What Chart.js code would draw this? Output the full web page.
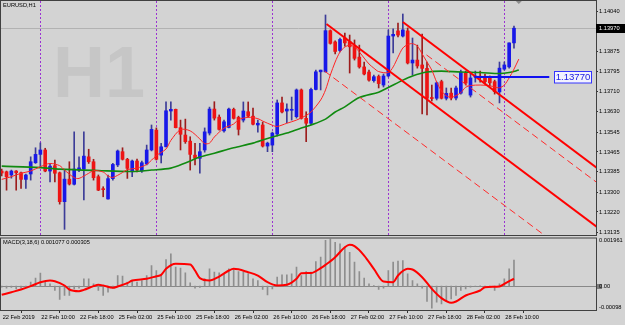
<!DOCTYPE html>
<html>
<head>
<meta charset="utf-8">
<script src="https://cdn.jsdelivr.net/npm/chart.js@4.4.1/dist/chart.umd.min.js"></script>
<style>
  html, body { margin: 0; padding: 0; background: #d3d3d3; }
  #wrap { position: relative; width: 625px; height: 325px; overflow: hidden; }
  canvas { position: absolute; left: 0; }
  #main { top: 0; }
  #macd { top: 236px; }
</style>
</head>
<body>
<div id="wrap">
  <canvas id="main" width="625" height="236"></canvas>
  <canvas id="macd" width="625" height="89"></canvas>
</div>
<script>
// EURUSD H1 candles, bar index 0 = 22 Feb 02:00
const opens = [1.13387,1.13384,1.13371,1.13387,1.13380,1.13353,1.13375,1.13421,1.13455,1.13473,
  1.13387,1.13409,1.13380,1.13262,1.13354,1.13333,1.13391,1.13395,1.13445,1.13425,
  1.13364,1.13314,1.13273,1.13356,1.13412,1.13466,1.13435,1.13384,1.13428,1.13388,
  1.13416,1.13473,1.13554,1.13452,1.13486,1.13632,1.13639,1.13564,1.13534,1.13509,
  1.13452,1.13439,1.13473,1.13542,1.13640,1.13607,1.13551,1.13565,1.13639,1.13606,
  1.13595,1.13629,1.13611,1.13575,1.13575,1.13489,1.13493,1.13538,1.13665,1.13632,
  1.13635,1.13609,1.13718,1.13602,1.13582,1.13720,1.13792,1.13792,1.13960,1.13914,
  1.13879,1.13930,1.13915,1.13897,1.13852,1.13812,1.13791,1.13756,1.13773,1.13738,
  1.13775,1.13938,1.13959,1.13938,1.13959,1.13828,1.13840,1.13820,1.13806,1.13684,
  1.13684,1.13752,1.13684,1.13705,1.13685,1.13705,1.13787,1.13697,1.13771,1.13771,
  1.13767,1.13767,1.13752,1.13710,1.13803,1.13812,1.13910];
const highs = [1.13395,1.13387,1.13391,1.13389,1.13383,1.13375,1.13445,1.13482,1.13502,1.13480,
  1.13418,1.13432,1.13383,1.13391,1.13425,1.13547,1.13445,1.13547,1.13476,1.13435,
  1.13371,1.13323,1.13371,1.13418,1.13473,1.13482,1.13439,1.13432,1.13436,1.13428,
  1.13493,1.13575,1.13563,1.13500,1.13670,1.13670,1.13640,1.13595,1.13599,1.13527,
  1.13500,1.13500,1.13563,1.13648,1.13670,1.13616,1.13595,1.13644,1.13644,1.13611,
  1.13669,1.13669,1.13644,1.13595,1.13587,1.13505,1.13546,1.13677,1.13689,1.13661,
  1.13689,1.13722,1.13722,1.13629,1.13726,1.13799,1.13799,1.14024,1.13963,1.13918,
  1.13930,1.13950,1.13942,1.13922,1.13901,1.13832,1.13799,1.13779,1.13779,1.13783,
  1.13963,1.13967,1.13991,1.14028,1.13971,1.13930,1.13901,1.13946,1.13832,1.13738,
  1.13750,1.13758,1.13726,1.13726,1.13734,1.13799,1.13795,1.13791,1.13795,1.13795,
  1.13783,1.13775,1.13758,1.13832,1.13832,1.13910,1.13979];
const lows = [1.13367,1.13309,1.13358,1.13309,1.13316,1.13316,1.13350,1.13418,1.13405,1.13384,
  1.13343,1.13343,1.13252,1.13149,1.13330,1.13330,1.13384,1.13269,1.13418,1.13350,
  1.13307,1.13282,1.13272,1.13350,1.13405,1.13432,1.13357,1.13364,1.13383,1.13381,
  1.13412,1.13469,1.13432,1.13420,1.13485,1.13595,1.13563,1.13473,1.13500,1.13391,
  1.13412,1.13378,1.13464,1.13534,1.13595,1.13554,1.13546,1.13563,1.13599,1.13534,
  1.13587,1.13607,1.13575,1.13546,1.13485,1.13466,1.13466,1.13530,1.13624,1.13584,
  1.13595,1.13603,1.13599,1.13507,1.13575,1.13718,1.13718,1.13791,1.13905,1.13865,
  1.13873,1.13897,1.13787,1.13840,1.13807,1.13779,1.13754,1.13750,1.13726,1.13730,
  1.13771,1.13869,1.13934,1.13934,1.13824,1.13779,1.13807,1.13620,1.13616,1.13673,
  1.13677,1.13681,1.13677,1.13677,1.13677,1.13701,1.13738,1.13689,1.13750,1.13750,
  1.13742,1.13734,1.13701,1.13665,1.13799,1.13807,1.13889];
const closes = [1.13379,1.13364,1.13387,1.13380,1.13353,1.13371,1.13425,1.13455,1.13473,1.13387,
  1.13407,1.13378,1.13262,1.13354,1.13334,1.13395,1.13400,1.13448,1.13425,1.13360,
  1.13309,1.13311,1.13356,1.13414,1.13469,1.13435,1.13398,1.13428,1.13391,1.13421,
  1.13473,1.13557,1.13435,1.13486,1.13633,1.13639,1.13564,1.13537,1.13507,1.13455,
  1.13439,1.13466,1.13547,1.13640,1.13603,1.13557,1.13588,1.13640,1.13602,1.13557,
  1.13632,1.13611,1.13578,1.13582,1.13489,1.13501,1.13542,1.13665,1.13628,1.13640,
  1.13637,1.13718,1.13602,1.13582,1.13720,1.13792,1.13799,1.13960,1.13908,1.13875,
  1.13924,1.13910,1.13894,1.13847,1.13812,1.13783,1.13758,1.13772,1.13744,1.13775,
  1.13938,1.13945,1.13942,1.13963,1.13828,1.13840,1.13816,1.13806,1.13684,1.13683,
  1.13747,1.13684,1.13704,1.13685,1.13726,1.13791,1.13746,1.13767,1.13772,1.13770,
  1.13752,1.13747,1.13711,1.13807,1.13820,1.13910,1.13970];

// moving averages at these bars
const maFastBars = [0,2,4,6,8,10,12,13,15,16,18,19,21,22,23,25,26,28,30,32,34,35,37,39,41,42,43,44,46,48,
  49,51,53,54,56,57,59,61,63,64,66,67,68,69,70,71,72,73,74,75,76,77,78,80,81,82,83,84,85,86,
  87,88,89,90,91,92,93,94,95,96,97,99,101,102,103,104,105,106,107];
const maFastValues = [1.13353,1.13364,1.13378,1.13387,1.13405,1.13418,1.13409,1.13391,1.13360,1.13357,
  1.13378,1.13389,1.13383,1.13367,1.13361,1.13381,1.13393,1.13399,1.13414,1.13450,
  1.13477,1.13512,1.13556,1.13551,1.13518,1.13499,1.13501,1.13526,1.13562,1.13579,
  1.13597,1.13606,1.13601,1.13591,1.13574,1.13569,1.13582,1.13595,1.13614,1.13628,
  1.13677,1.13718,1.13779,1.13832,1.13873,1.13893,1.13901,1.13894,1.13873,1.13848,
  1.13824,1.13807,1.13793,1.13789,1.13812,1.13852,1.13889,1.13903,1.13907,1.13897,
  1.13865,1.13832,1.13799,1.13750,1.13714,1.13694,1.13688,1.13695,1.13707,1.13729,
  1.13736,1.13738,1.13735,1.13730,1.13727,1.13738,1.13767,1.13803,1.13844];
const maSlowBars = [0,8,12,20,27,31,35,38,41,44,48,52,55,59,62,64,67,69,71,74,78,80,83,85,88,91,95,99,103,105,107];
const maSlowValues = [1.13407,1.13401,1.13395,1.13389,1.13385,1.13391,1.13399,1.13420,1.13444,1.13460,
  1.13482,1.13501,1.13520,1.13542,1.13563,1.13575,1.13599,1.13628,1.13649,1.13687,
  1.13709,1.13728,1.13758,1.13775,1.13791,1.13795,1.13791,1.13789,1.13785,1.13789,1.13799];

// drawn objects: [bar, price] end points
const trendA = [[67.2, 1.13987], [123.3, 1.13157]];
const trendADash = [[66.8, 1.13795], [123.3, 1.12963]];
const trendB = [[83, 1.13995], [123.3, 1.13398]];
const trendBDash = [[87.9, 1.13861], [123.3, 1.13338]];
const hLinePrice = 1.13770;
const hLineBars = [97.8, 113.3];
const bidPrice = 1.13970;
const separatorBars = [8, 32, 56, 80, 104];
const shiftMarkerBar = 107;

// MACD(3,18,6), values in millionths
const macdParams = [3, 18, 6];
const macdHist = [-41,-82,-55,-110,-68,-27,164,329,534,164,
  96,-178,-548,-384,-384,-110,-82,301,301,96,
  -178,-384,-247,-82,438,411,164,233,164,233,
  438,849,644,438,1096,1329,781,740,548,137,
  -82,-55,301,712,575,548,507,712,685,603,
  575,507,301,233,-137,-356,-110,370,466,466,
  507,781,438,603,575,1014,1192,1890,1950,1808,
  1740,1603,1397,986,603,329,96,20,-137,-82,
  644,986,1028,1055,507,233,96,-82,-630,-900,
  -658,-726,-630,-521,-384,-178,-110,-41,0,10,
  0,-10,-178,96,301,712,1077];
const signalBars = [0,2,4,6,8,10,11,13,14,16,17,19,20,21,23,24,26,27,30,32,33,34,36,39,40,41,43,45,47,48,
  51,53,55,57,59,61,62,64,66,67,69,71,72,73,75,77,79,81,82,84,85,87,89,91,93,94,96,99,100,103,104,106];
const signalValues = [-356,-247,-137,0,164,233,205,27,-137,-205,-151,0,55,27,-68,-14,123,233,301,411,
  466,712,918,890,644,329,233,397,644,712,575,438,164,27,55,301,534,540,740,877,
  1192,1603,1699,1644,1260,712,192,164,438,712,685,370,-110,-493,-685,-630,-384,-178,-41,-14,96,305];
const MACD_UNIT = 1e-6;

// axes
const priceTicks = [1.14040,1.13955,1.13875,1.13795,1.13710,1.13630,1.13545,1.13465,1.13385,1.13300,1.13220,1.13135];
const timeLabelBars = [0,8,16,24,32,40,48,56,64,72,80,88,96,104];
const timeLabels = ['22 Feb 2019','22 Feb 10:00','22 Feb 18:00','25 Feb 02:00','25 Feb 10:00','25 Feb 18:00',
  '26 Feb 02:00','26 Feb 10:00','26 Feb 18:00','27 Feb 02:00','27 Feb 10:00','27 Feb 18:00','28 Feb 02:00','28 Feb 10:00'];
const macdAxisValues = [0.001961, 0, -0.00098];
const macdAxisLabels = ['0.001961', '0.00', '-0.00098'];

const X_MIN = -0.145, X_MAX = 122.97;
const P_MIN = 1.13126, P_MAX = 1.14081;
const MACD_MIN = -0.00098, MACD_MAX = 0.001961;

const UP_BODY = '#1818e8', DN_BODY = '#ee1414';
const UP_WICK = '#3c3c98', DN_WICK = '#9c1c1c';
const FRAME = '#404040';
const smallFont = { family: 'Liberation Sans', size: 5.7 };
const SMALL = '5.7px "Liberation Sans"';

Chart.defaults.font.family = 'Liberation Sans';

const isUp = i => closes[i] >= opens[i];
const barIdx = opens.map((_, i) => i);
const pts = (bars, vals, k = 1) => bars.map((b, j) => ({ x: b, y: vals[j] * k }));
const seg = line => line.map(([x, y]) => ({ x, y }));

function frame(ctx, a) {
  ctx.strokeStyle = FRAME;
  ctx.lineWidth = 1;
  ctx.strokeRect(a.left - 0.5, a.top - 0.5, a.right - a.left + 1, a.bottom - a.top + 1);
}

const mainDeco = {
  id: 'mainDeco',
  beforeDatasetsDraw(chart) {
    const { ctx, chartArea: a, scales: { x, y } } = chart;
    ctx.save();
    ctx.beginPath();
    ctx.rect(a.left, a.top, a.right - a.left, a.bottom - a.top);
    ctx.clip();
    // timeframe watermark
    ctx.fillStyle = '#c6c6c6';
    ctx.font = 'bold 72px "Liberation Sans"';
    ctx.textBaseline = 'alphabetic';
    ctx.fillText('H1', 53, 97);
    // day separators
    ctx.strokeStyle = '#9a32d2';
    ctx.lineWidth = 1;
    ctx.setLineDash([2, 2]);
    separatorBars.forEach(b => {
      const px = Math.round(x.getPixelForValue(b)) + 0.5;
      ctx.beginPath(); ctx.moveTo(px, a.top); ctx.lineTo(px, a.bottom); ctx.stroke();
    });
    ctx.setLineDash([]);
    // bid line
    const by = Math.round(y.getPixelForValue(bidPrice)) + 0.5;
    ctx.strokeStyle = '#b2b2b2';
    ctx.beginPath(); ctx.moveTo(a.left, by); ctx.lineTo(a.right, by); ctx.stroke();
    ctx.restore();
  },
  afterDatasetsDraw(chart) {
    const { ctx, scales: { x, y } } = chart;
    ctx.save();
    const hy = Math.round(y.getPixelForValue(hLinePrice));
    const x0 = x.getPixelForValue(hLineBars[0]), x1 = x.getPixelForValue(hLineBars[1]);
    ctx.strokeStyle = '#1010f0';
    ctx.lineWidth = 2;
    ctx.beginPath(); ctx.moveTo(x0, hy); ctx.lineTo(x1, hy); ctx.stroke();
    const bx = Math.round(x1) + 5.5;
    ctx.fillStyle = '#f2f2ff';
    ctx.fillRect(bx, hy - 5.5, 37, 11.5);
    ctx.strokeStyle = '#3434ff';
    ctx.lineWidth = 1;
    ctx.strokeRect(bx, hy - 5.5, 37, 11.5);
    ctx.fillStyle = '#2020e0';
    ctx.font = '9.6px "Liberation Sans"';
    ctx.textAlign = 'center';
    ctx.textBaseline = 'middle';
    ctx.fillText(hLinePrice.toFixed(5), bx + 18.5, hy + 0.5);
    ctx.restore();
  },
  afterDraw(chart) {
    const { ctx, chartArea: a, scales: { x, y } } = chart;
    ctx.save();
    frame(ctx, a);
    ctx.fillStyle = '#000';
    ctx.font = SMALL;
    ctx.textBaseline = 'middle';
    ctx.fillText('EURUSD,H1', 3, 5.5);
    // bid price tag
    const by = Math.round(y.getPixelForValue(bidPrice)) + 0.5;
    ctx.fillRect(596, by - 4.5, 29, 9);
    ctx.fillStyle = '#fff';
    ctx.fillText(bidPrice.toFixed(5), 599, by + 0.3);
    // chart shift marker
    const sx = x.getPixelForValue(shiftMarkerBar);
    ctx.fillStyle = '#8c8c8c';
    ctx.beginPath(); ctx.moveTo(sx - 3, a.top); ctx.lineTo(sx + 3, a.top); ctx.lineTo(sx, a.top + 3); ctx.fill();
    ctx.restore();
  }
};

const macdDeco = {
  id: 'macdDeco',
  beforeDatasetsDraw(chart) {
    const { ctx, chartArea: a, scales: { y } } = chart;
    const zy = Math.round(y.getPixelForValue(0)) + 0.5;
    ctx.save();
    ctx.strokeStyle = '#888';
    ctx.lineWidth = 1;
    ctx.beginPath(); ctx.moveTo(a.left, zy); ctx.lineTo(a.right, zy); ctx.stroke();
    ctx.restore();
  },
  afterDraw(chart) {
    const { ctx, chartArea: a, scales: { y } } = chart;
    ctx.save();
    frame(ctx, a);
    ctx.fillStyle = '#000';
    ctx.font = SMALL;
    ctx.textBaseline = 'middle';
    const last = macdHist.length - 1;
    const header = 'MACD(' + macdParams.join(',') + ') ' + (macdHist[last] * MACD_UNIT).toFixed(6) + ' ' +
      (signalValues[signalValues.length - 1] * MACD_UNIT).toFixed(6);
    ctx.fillText(header, 3, a.top + 3.8);
    // right axis: max at top, min at bottom, zero in place
    macdAxisValues.forEach((v, k) => {
      let py = y.getPixelForValue(v);
      if (k === 0) py = a.top + 1.6;
      if (k === 2) py = a.bottom - 2.7;
      if (v === 0) {
        ctx.fillStyle = '#7c7c7c';
        ctx.fillRect(597, Math.round(py) - 2, 5, 5);
        ctx.fillStyle = '#000';
      }
      ctx.fillText(macdAxisLabels[k], 599, py + 0.3);
    });
    ctx.restore();
  }
};

new Chart(document.getElementById('main'), {
  type: 'bar',
  data: {
    datasets: [
      { type: 'line', data: seg(trendA), borderColor: '#ff0000', borderWidth: 2, pointRadius: 0, order: 0 },
      { type: 'line', data: seg(trendB), borderColor: '#ff0000', borderWidth: 2, pointRadius: 0, order: 0 },
      { type: 'line', data: seg(trendADash), borderColor: '#ff2a2a', borderWidth: 1, borderDash: [7, 4], pointRadius: 0, order: 0 },
      { type: 'line', data: seg(trendBDash), borderColor: '#ff2a2a', borderWidth: 1, borderDash: [7, 4], pointRadius: 0, order: 0 },
      { type: 'line', data: pts(maFastBars, maFastValues), borderColor: '#ff2424', borderWidth: 1, pointRadius: 0, tension: 0.3, order: 1 },
      { type: 'line', data: pts(maSlowBars, maSlowValues), borderColor: '#108a10', borderWidth: 1.6, pointRadius: 0, tension: 0.3, order: 1 },
      { data: barIdx.map(i => ({ x: i, y: [opens[i], closes[i]] })),
        backgroundColor: c => isUp(c.dataIndex) ? UP_BODY : DN_BODY,
        barThickness: 3, minBarLength: 1, grouped: false, order: 2 },
      { data: barIdx.map(i => ({ x: i, y: [lows[i], highs[i]] })),
        backgroundColor: c => isUp(c.dataIndex) ? UP_WICK : DN_WICK,
        barThickness: 1, grouped: false, order: 3 }
    ]
  },
  options: {
    responsive: false,
    animation: false,
    devicePixelRatio: 1,
    layout: { padding: { left: 1, top: 1, right: 0, bottom: 1 } },
    plugins: { legend: { display: false }, tooltip: { enabled: false } },
    scales: {
      x: { type: 'linear', min: X_MIN, max: X_MAX, offset: false, display: false },
      y: {
        position: 'right', min: P_MIN, max: P_MAX,
        afterBuildTicks: s => { s.ticks = priceTicks.map(v => ({ value: v })); },
        afterFit: s => { s.width = 29; s.paddingTop = 0; s.paddingBottom = 0; },
        grid: { drawOnChartArea: false, drawTicks: true, tickLength: 2, color: '#303030' },
        border: { display: false },
        ticks: { autoSkip: false, padding: 1, font: smallFont, color: '#000', callback: v => v.toFixed(5) }
      }
    }
  },
  plugins: [mainDeco]
});

new Chart(document.getElementById('macd'), {
  type: 'bar',
  data: {
    datasets: [
      { type: 'line', data: pts(signalBars, signalValues, MACD_UNIT), borderColor: '#ff0000', borderWidth: 2,
        pointRadius: 0, cubicInterpolationMode: 'monotone', order: 0 },
      { data: macdHist.map((v, i) => ({ x: i, y: v * MACD_UNIT })), backgroundColor: '#8e8e8e',
        barThickness: 1, grouped: false, order: 1 }
    ]
  },
  options: {
    responsive: false,
    animation: false,
    devicePixelRatio: 1,
    layout: { padding: { left: 1, top: 2.5, right: 0, bottom: 0 } },
    plugins: { legend: { display: false }, tooltip: { enabled: false } },
    scales: {
      x: {
        type: 'linear', min: X_MIN, max: X_MAX, offset: false,
        afterBuildTicks: s => { s.ticks = timeLabelBars.map(v => ({ value: v })); },
        afterFit: s => { s.height = 15; s.paddingLeft = 0; s.paddingRight = 0; },
        grid: { drawOnChartArea: false, drawTicks: true, tickLength: 3, color: '#303030' },
        border: { display: false },
        ticks: { autoSkip: false, maxRotation: 0, minRotation: 0, align: 'start', padding: 1, labelOffset: 1,
          font: smallFont, color: '#000', callback: (v, i) => timeLabels[i] }
      },
      y: {
        position: 'right', min: MACD_MIN, max: MACD_MAX,
        afterFit: s => { s.width = 29; s.paddingTop = 0; s.paddingBottom = 0; },
        ticks: { display: false }, grid: { display: false }, border: { display: false }
      }
    }
  },
  plugins: [macdDeco]
});
</script>
</body>
</html>
